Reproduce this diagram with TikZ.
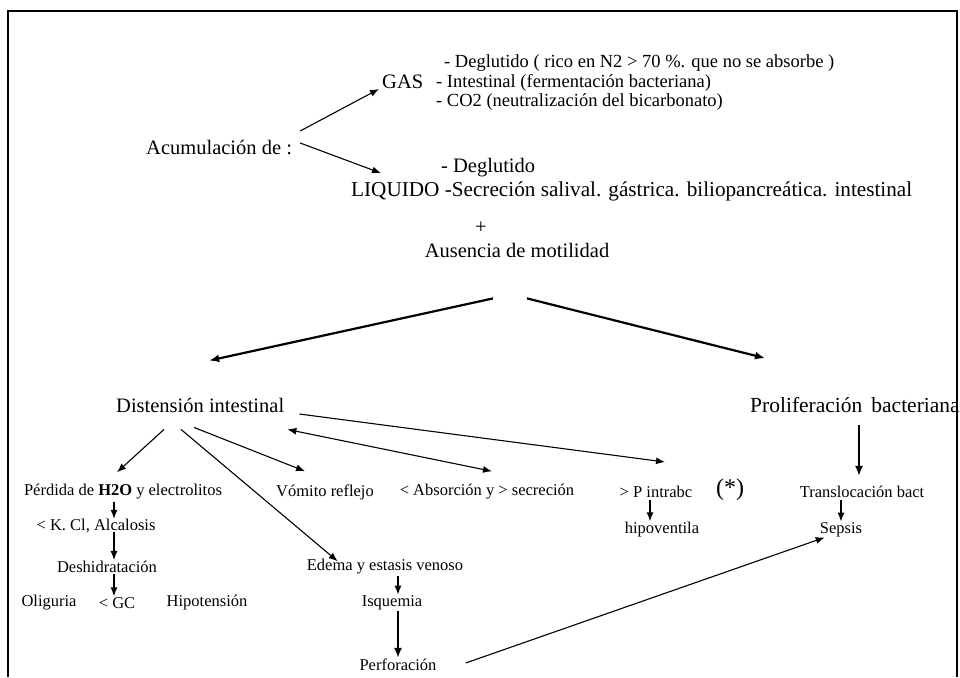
\documentclass[tikz,border=0pt]{standalone}
\usepackage{fontspec}
\setmainfont{Liberation Serif}
\usetikzlibrary{arrows.meta,calc}
\tikzset{
  head/.style={font=\fontsize{20.5}{22}\selectfont},
  list/.style={font=\fontsize{18.5}{20}\selectfont},
  small/.style={font=\fontsize{16.5}{18}\selectfont},
  arr/.style={-{Latex[length=9pt,width=7pt]},line width=1.1pt},
  fatarr/.style={-{Latex[length=10pt,width=8pt]},line width=2.2pt},
}
\begin{document}
\begin{tikzpicture}[x=1pt,y=-1pt,inner sep=1pt]
  \useasboundingbox (0,0) rectangle (960,677);
  \draw[line width=1.5pt] (8,677) -- (8,11) -- (957,11) -- (957,677);

  % acumulacion
  \node[head,anchor=west] (acum) at (145,148) {Acumulación de :};
  \node[head,anchor=west] (gas) at (381,82) {GAS};
  \node[list,anchor=west] (gasA) at (443,63) {- Deglutido ( rico en N2 > 70 \%. que no se absorbe )};
  \node[list,anchor=west] (gasB) at (435,83) {- Intestinal (fermentación bacteriana)};
  \node[list,anchor=west] (gasC) at (435,102) {- CO2 (neutralización del bicarbonato)};
  \node[head,anchor=west] (liqA) at (440,168) {- Deglutido};
  \node[font=\fontsize{21.2}{23}\selectfont,anchor=west] (liq) at (350,191) {LIQUIDO -Secreción salival. gástrica. biliopancreática. intestinal};
  \node[head] (plus) at (481,228) {+};
  \node[head] (aus) at (517,250) {Ausencia de motilidad};
  \draw[arr] ($(acum.east)+(7,-17)$) -- ($(gas.west)+(-2,7)$);
  \draw[arr] ($(acum.east)+(7,-5)$) -- ($(liq.north west)+(31,-7)$);

  % distension / proliferacion
  \node[head,anchor=west] (dist) at (115,405) {Distensión intestinal};
  \node[font=\fontsize{21.5}{23}\selectfont,anchor=west] (prol) at (749,405) {Proliferación\, bacteriana};
  \draw[fatarr] ($(aus.south)+(-24,40)$) -- ($(dist.north)+(9,-36)$);
  \draw[fatarr] ($(aus.south)+(10,40)$) -- ($(prol.north west)+(16,-38)$);

  % consecuencias
  \node[small] (perd) at (123,492) {Pérdida de \textbf{H2O} y electrolitos};
  \node[small] (vom) at (325,492) {Vómito reflejo};
  \node[small] (abs) at (487,492) {< Absorción y > secreción};
  \node[small] (pint) at (656,492) {> P intrabc};
  \node[font=\fontsize{24}{26}\selectfont] (star) at (730,490) {(*)};
  \node[small] (trans) at (862,492) {Translocación bact};
  \node[small] (kcl) at (96,526) {< K. Cl, Alcalosis};
  \node[small] (desh) at (107,567) {Deshidratación};
  \node[small] (olig) at (49,603) {Oliguria};
  \node[small] (gc) at (117,603) {< GC};
  \node[small] (hipo) at (207,603) {Hipotensión};
  \node[small] (edema) at (385,567) {Edema y estasis venoso};
  \node[small] (isq) at (392,603) {Isquemia};
  \node[small] (perf) at (398,665) {Perforación};
  \node[small] (hipov) at (662,530) {hipoventila};
  \node[small] (sepsis) at (841,530) {Sepsis};

  \draw[arr] ($(dist.south west)+(49,16)$) -- ($(perd.north)+(-6,-11)$);
  \draw[arr] ($(dist.south west)+(66,16)$) -- ($(edema.north west)+(32,3)$);
  \draw[arr] ($(dist.south west)+(79,14)$) -- ($(vom.north)+(-20,-12)$);
  \draw[arr] ($(dist.east)+(14,9)$) -- ($(pint.north)+(9,-23)$);
  \draw[{Latex[length=9pt,width=7pt]}-{Latex[length=9pt,width=7pt]},line width=1.1pt]
    ($(dist.south east)+(2,16)$) -- ($(abs.north)+(5,-12)$);

  \draw[arr] ($(perd.south)+(-9,1)$) -- ($(kcl.north)+(18,1)$);
  \draw[arr] ($(kcl)+(18,6)$) -- ($(desh.north)+(7,0)$);
  \draw[arr] ($(desh.south)+(7,0)$) -- ($(gc.north)+(-3,0)$);
  \draw[arr] ($(edema.south)+(13,0)$) -- ($(isq.north)+(6,0)$);
  \draw[fatarr] ($(isq.south)+(6,0)$) -- (perf.north);
  \draw[arr] ($(pint.south)+(-6,1)$) -- ($(hipov.north)+(-12,0)$);
  \draw[arr] ($(trans.south)+(-21,1)$) -- (sepsis.north);
  \draw[fatarr] ($(prol.south -| trans.north)+(-3,11)$) -- ($(trans.north)+(-3,-9)$);
  \draw[arr] ($(perf.east)+(28,-2)$) -- ($(sepsis.south west)+(6,-1)$);
\end{tikzpicture}
\end{document}
